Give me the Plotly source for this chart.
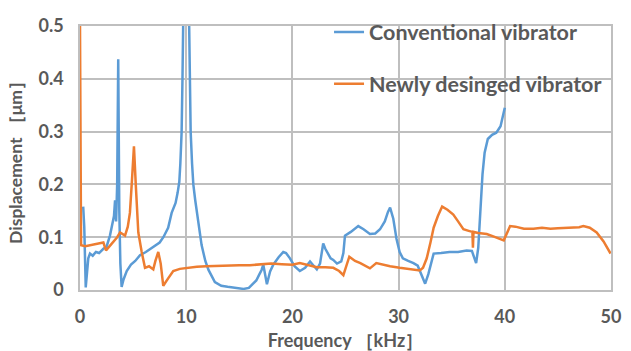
import plotly.graph_objects as go

# Conventional vibrator (blue)
conv_x = [0.3, 0.4, 0.54, 0.65, 0.78, 0.94, 1.2, 1.5, 1.8, 2.2, 2.5, 2.82, 3.0, 3.2, 3.3, 3.4, 3.5, 3.6, 3.7, 3.8, 3.92,
          4.1, 4.4, 4.8, 5.2, 5.65, 6.2, 6.8, 7.5, 7.85, 8.3, 8.63, 9.0, 9.2, 9.35, 9.45, 9.57, 9.65, 9.72, 9.85, 10.0,
          10.15, 10.28, 10.35, 10.42, 10.55, 10.67, 10.85, 11.05, 11.25, 11.45, 11.8, 12.1, 12.7, 13.3, 13.9, 14.4, 15.0,
          15.4, 15.9, 16.3, 16.6, 16.9, 17.1, 17.26, 17.45, 17.6,
          17.9, 18.2, 18.7, 19.14, 19.4, 19.77, 20.2, 20.7, 21.2, 21.66, 22.0, 22.3, 22.6, 22.9, 23.1, 23.4, 23.6, 23.85,
          24.2, 24.6, 24.8, 24.95, 25.5, 26.2, 26.7, 27.3, 27.8, 28.25, 28.7, 29.0, 29.2, 29.5, 29.8, 30.1, 30.4, 30.9,
          31.4, 31.8, 32.0, 32.3, 32.5, 32.8, 33.3, 34.0, 34.8, 35.6, 36.4, 36.9, 37.3, 37.5, 37.7, 37.9, 38.1, 38.4,
          38.8, 39.2, 39.6, 39.9, 40.0]
conv_y = [0.158, 0.12, 0.005, 0.04, 0.06, 0.069, 0.065, 0.072, 0.07, 0.078, 0.082, 0.103, 0.12, 0.14, 0.17, 0.13, 0.2, 0.437, 0.15, 0.05, 0.006,
          0.02, 0.036, 0.048, 0.055, 0.066, 0.072, 0.08, 0.09, 0.1, 0.118, 0.146, 0.165, 0.185, 0.205, 0.24, 0.3, 0.4, 0.5, 0.8, 0.95,
          0.8, 0.5, 0.4, 0.3, 0.24, 0.2, 0.17, 0.14, 0.11, 0.085, 0.055, 0.038, 0.015, 0.008, 0.006, 0.005, 0.003,
          0.002, 0.004, 0.011, 0.018, 0.03, 0.038, 0.048, 0.03, 0.011,
          0.035, 0.048, 0.062, 0.072, 0.07, 0.06, 0.045, 0.036, 0.042, 0.054, 0.046, 0.039, 0.05, 0.088, 0.078, 0.066, 0.06, 0.057,
          0.05, 0.054, 0.07, 0.103, 0.11, 0.121, 0.115, 0.106, 0.107, 0.115, 0.13, 0.148, 0.156, 0.135, 0.097, 0.072, 0.06, 0.055,
          0.051, 0.046, 0.036, 0.022, 0.012, 0.03, 0.069, 0.07, 0.072, 0.072, 0.075, 0.074, 0.051, 0.08, 0.15, 0.219, 0.26, 0.286,
          0.294, 0.298, 0.31, 0.341, 0.345]

# Newly designed vibrator (orange)
new_x = [0.0, 0.05, 0.1, 0.5, 1.0, 1.5, 1.88, 2.2, 2.45, 2.8, 3.14, 3.5, 3.77, 4.0, 4.24, 4.5, 4.7, 4.9, 5.08, 5.25, 5.49,
         5.81, 6.12, 6.5, 6.9, 7.1, 7.37, 7.6, 7.84, 8.3, 8.78, 9.4, 10.0, 11.0, 11.9, 13.0, 14.0, 15.0, 16.0, 17.0, 18.0,
         19.0, 20.0, 20.7, 21.5, 22.3, 23.1, 23.85, 24.4, 24.8, 25.36, 25.9, 26.4, 26.9, 27.3, 27.9, 28.5, 29.2, 30.1, 31.0,
         32.0, 32.3, 32.65, 33.0, 33.3, 33.7, 34.1, 34.6, 35.15, 35.6, 36.1, 36.6, 36.95, 37.0, 37.05, 37.5, 38.3, 39.1, 39.9,
         40.5, 41.0, 41.8, 42.7, 43.5, 44.3, 45.0, 46.0, 47.0, 47.4, 48.0, 48.65, 49.3, 49.96]
new_y = [0.5, 0.3, 0.085, 0.083, 0.085, 0.086, 0.088, 0.09, 0.075, 0.083, 0.09, 0.1, 0.109, 0.106, 0.103, 0.12, 0.146, 0.21, 0.272, 0.2, 0.109,
         0.072, 0.042, 0.045, 0.039, 0.055, 0.072, 0.05, 0.008, 0.022, 0.036, 0.04, 0.042, 0.044, 0.045, 0.046, 0.046, 0.047, 0.047, 0.049, 0.05,
         0.049, 0.048, 0.051, 0.047, 0.043, 0.043, 0.042, 0.036, 0.028, 0.063, 0.055, 0.051, 0.046, 0.041, 0.051, 0.048, 0.045, 0.042, 0.04,
         0.037, 0.042, 0.06, 0.09, 0.118, 0.14, 0.158, 0.152, 0.143, 0.13, 0.115, 0.112, 0.11, 0.08, 0.11, 0.108, 0.106, 0.1, 0.094,
         0.121, 0.12, 0.116, 0.116, 0.118, 0.116, 0.117, 0.118, 0.119, 0.121, 0.118, 0.109, 0.092, 0.069]

x_ticks = [0, 10, 20, 30, 40, 50]
y_ticks = [0, 0.1, 0.2, 0.3, 0.4, 0.5]
y_tick_text = ["0", "0.1", "0.2", "0.3", "0.4", "0.5"]

FONT = "Lato, 'Open Sans', sans-serif"
GRAY = "#595959"
GRID = "#BFBFBF"

fig = go.Figure()
fig.add_trace(go.Scatter(x=conv_x, y=conv_y, mode="lines", name="Conventional vibrator",
                         line=dict(color="#5B9BD5", width=2.5), legend="legend"))
fig.add_trace(go.Scatter(x=new_x, y=new_y, mode="lines", name="Newly desinged vibrator",
                         line=dict(color="#ED7D31", width=2.5), legend="legend2"))

legend_common = dict(font=dict(family=FONT, size=21.5, color=GRAY, weight="bold"),
                     bgcolor="rgba(0,0,0,0)", xanchor="left", yanchor="middle",
                     itemwidth=30, tracegroupgap=0)
fig.update_layout(
    width=631, height=351,
    margin=dict(l=80, r=20, t=17, b=61),
    paper_bgcolor="white", plot_bgcolor="white",
    showlegend=True,
    legend=dict(x=0.469, y=0.977, **legend_common),
    legend2=dict(x=0.469, y=0.781, **legend_common),
    xaxis=dict(range=[0, 50], tickvals=x_ticks, showgrid=True, gridcolor=GRID, gridwidth=1.5,
               showline=True, linecolor=GRID, linewidth=1.5, mirror=True, zeroline=False, automargin=False,
               ticks="", ticklabelstandoff=10, tickfont=dict(family=FONT, size=18, color=GRAY, weight="bold"),
               title=dict(text="Frequency ［kHz］", font=dict(family=FONT, size=18, color=GRAY, weight="bold"),
                          standoff=8)),
    yaxis=dict(range=[0, 0.5], tickvals=y_ticks, ticktext=y_tick_text, showgrid=True, gridcolor=GRID,
               gridwidth=1.5, showline=True, linecolor=GRID, linewidth=1.5, mirror=True, zeroline=False,
               automargin=False, ticks="", ticklabelstandoff=11,
               tickfont=dict(family=FONT, size=18, color=GRAY, weight="bold"),
               title=dict(text="Displacement ［μm］", font=dict(family=FONT, size=17.5, color=GRAY, weight="bold"),
                          standoff=11)),
)

fig.write_html("out.html", config={"displayModeBar": False},
               post_script="document.body.style.margin='0';")
